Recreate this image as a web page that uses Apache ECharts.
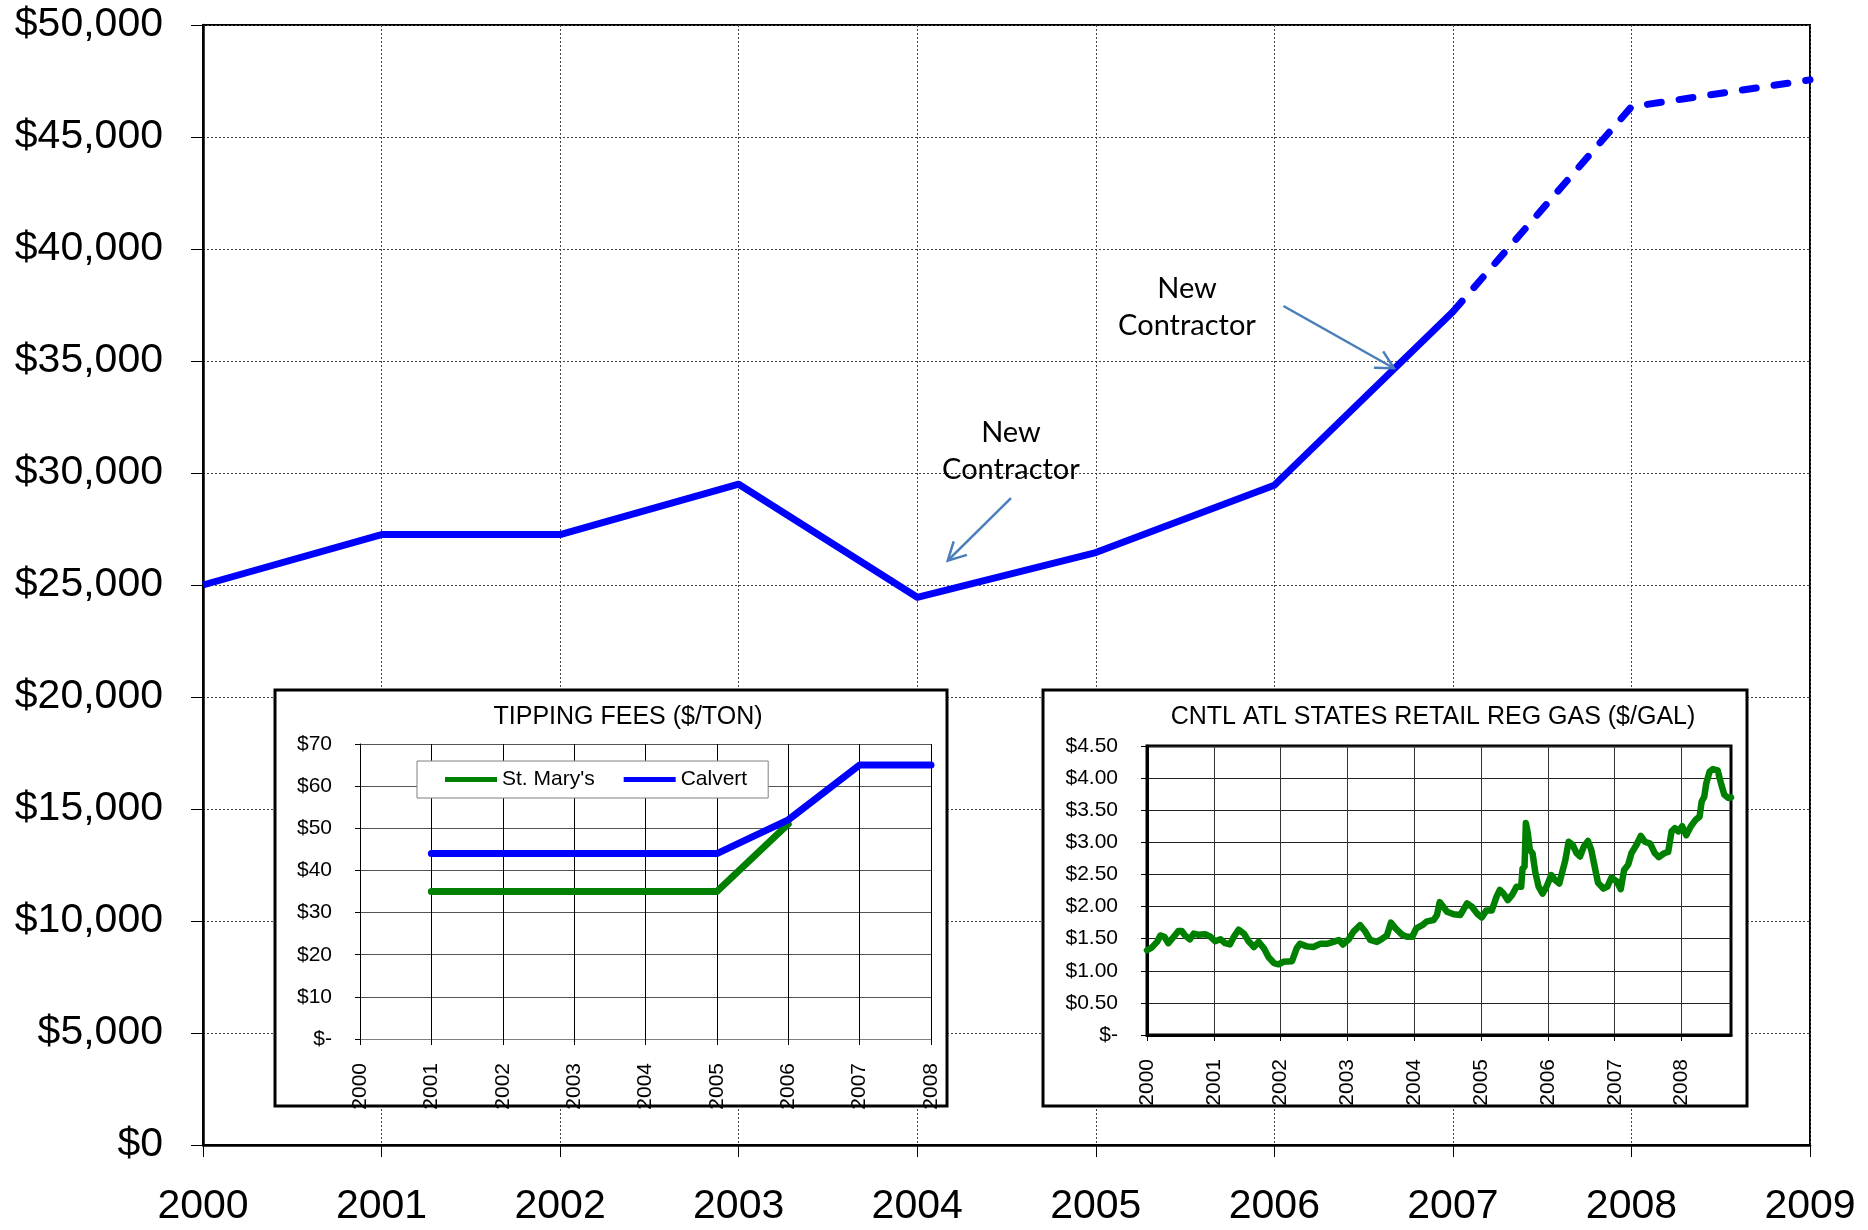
<!DOCTYPE html>
<html><head><meta charset="utf-8">
<script src="https://cdn.jsdelivr.net/npm/echarts@6/dist/echarts.min.js"></script>
<style>html,body{margin:0;padding:0;background:#fff}#c{width:1868px;height:1230px}</style>
</head><body><div id="c"></div>
<script>
// ---------- DATA ----------
const mainYears = [2000, 2001, 2002, 2003, 2004, 2005, 2006, 2007, 2008, 2009];
const costYears = [2000, 2001, 2002, 2003, 2004, 2005, 2006, 2007];
const costActual = [25000, 27250, 27250, 29500, 24450, 26450, 29450, 37200];
const projYears = [2007, 2008, 2009];
const costProjected = [37200, 46350, 47550];

const feeYears = [2001, 2002, 2003, 2004, 2005, 2006, 2007, 2008];
const stMarysFee = [35, 35, 35, 35, 35, 51];
const calvertFee = [44, 44, 44, 44, 44, 52, 65, 65];
const feeTickYears = [2000, 2001, 2002, 2003, 2004, 2005, 2006, 2007, 2008];

const gasDates = [2000.00, 2000.07, 2000.15, 2000.20, 2000.26, 2000.32, 2000.40, 2000.47, 2000.52, 2000.57,
  2000.64, 2000.70, 2000.77, 2000.87, 2000.95, 2001.02, 2001.10, 2001.17, 2001.24, 2001.30,
  2001.37, 2001.45, 2001.52, 2001.60, 2001.67, 2001.75, 2001.82, 2001.90, 2001.97, 2002.04,
  2002.17, 2002.24, 2002.29, 2002.39, 2002.49, 2002.59, 2002.69, 2002.79, 2002.87, 2002.93,
  2003.02, 2003.09, 2003.19, 2003.26, 2003.34, 2003.44, 2003.52, 2003.59, 2003.65, 2003.72,
  2003.82, 2003.89, 2003.97, 2004.03, 2004.12, 2004.19, 2004.29, 2004.34, 2004.38, 2004.49,
  2004.59, 2004.69, 2004.79, 2004.86, 2004.94, 2005.01, 2005.08, 2005.16, 2005.23, 2005.28,
  2005.33, 2005.40, 2005.47, 2005.53, 2005.60, 2005.62, 2005.65, 2005.67, 2005.70, 2005.73,
  2005.77, 2005.81, 2005.86, 2005.92, 2005.98, 2006.05, 2006.11, 2006.17, 2006.22, 2006.26,
  2006.31, 2006.37, 2006.43, 2006.48, 2006.54, 2006.60, 2006.65, 2006.70, 2006.75, 2006.83,
  2006.89, 2006.95, 2007.03, 2007.09, 2007.14, 2007.20, 2007.25, 2007.33, 2007.39, 2007.45,
  2007.53, 2007.60, 2007.66, 2007.74, 2007.80, 2007.85, 2007.90, 2007.95, 2008.01, 2008.07,
  2008.14, 2008.21, 2008.27, 2008.30, 2008.34, 2008.37, 2008.42, 2008.47, 2008.54, 2008.59,
  2008.64, 2008.70, 2008.74];
const gasPrices = [1.32, 1.36, 1.45, 1.55, 1.53, 1.43, 1.53, 1.62, 1.62, 1.55,
  1.49, 1.58, 1.56, 1.57, 1.53, 1.46, 1.49, 1.43, 1.41, 1.53,
  1.64, 1.58, 1.46, 1.37, 1.45, 1.35, 1.21, 1.12, 1.10, 1.14,
  1.15, 1.35, 1.42, 1.38, 1.37, 1.42, 1.42, 1.45, 1.48, 1.41,
  1.49, 1.61, 1.71, 1.62, 1.48, 1.45, 1.50, 1.55, 1.75, 1.66,
  1.56, 1.53, 1.53, 1.66, 1.71, 1.77, 1.79, 1.87, 2.07, 1.92,
  1.88, 1.87, 2.05, 2.00, 1.89, 1.83, 1.94, 1.94, 2.15, 2.26,
  2.21, 2.10, 2.19, 2.31, 2.31, 2.59, 2.62, 3.30, 3.14, 2.88,
  2.83, 2.54, 2.31, 2.20, 2.31, 2.49, 2.41, 2.36, 2.56, 2.72,
  3.01, 2.96, 2.83, 2.78, 2.94, 3.02, 2.88, 2.62, 2.37, 2.28,
  2.31, 2.45, 2.39, 2.27, 2.57, 2.65, 2.83, 2.97, 3.10, 3.01,
  2.98, 2.83, 2.77, 2.83, 2.85, 3.17, 3.22, 3.17, 3.25, 3.11,
  3.25, 3.35, 3.40, 3.63, 3.71, 3.92, 4.10, 4.14, 4.12, 3.92,
  3.74, 3.69, 3.70];
const gasTickYears = [2000, 2001, 2002, 2003, 2004, 2005, 2006, 2007, 2008];

// annotation anchors in data space (year, $)
const noteLabels = ['New\nContractor', 'New\nContractor'];
const noteAnchors = [[2004.525, 30960], [2005.511, 37410]];
const arrowFrom = [[2004.525, 28880], [2006.051, 37455]];
const arrowTo = [[2004.171, 26090], [2006.67, 34675]];

// ---------- CHART ----------
const FF = '"Liberation Sans", Arial, Helvetica, sans-serif';
const chart = echarts.init(document.getElementById('c'), null, {renderer: 'canvas'});
const pairs = (xs, ys) => ys.map((v, i) => [xs[i], v]);

const option = {
  animation: false,
  backgroundColor: '#fff',
  legend: {
    zlevel: 1, z: 10,
    data: ["St. Mary's", 'Calvert'],
    left: 417, top: 761,
    padding: [8, 21, 8, 28], itemGap: 29,
    itemWidth: 52, itemHeight: 5, icon: 'rect',
    backgroundColor: '#fff', borderColor: '#808080', borderWidth: 1,
    textStyle: {fontSize: 21, fontFamily: FF, color: '#000'}
  },
  grid: [
    {left: 203, right: 58, top: 25, bottom: 85, outerBoundsMode: 'none',
     show: true, borderColor: '#000', borderWidth: 2, backgroundColor: 'transparent'},
    {left: 360, right: 937, top: 744, bottom: 191, outerBoundsMode: 'none', zlevel: 1, z: 5},
    {left: 1147, right: 137, top: 746, bottom: 195, outerBoundsMode: 'none', zlevel: 1, z: 5,
     show: true, borderColor: '#000', borderWidth: 3, backgroundColor: 'transparent'}
  ],
  xAxis: [
    {type: 'value', gridIndex: 0, min: 2000, max: 2009, interval: 1,
     axisLine: {onZero: false, lineStyle: {color: '#000', width: 2.5}},
     axisTick: {show: true, length: 12, lineStyle: {color: '#000', width: 1}},
     axisLabel: {margin: 41, fontSize: 41, fontFamily: FF, color: '#000', formatter: v => String(v)},
     splitLine: {show: true, lineStyle: {color: '#444', width: 1, type: [2, 2]}}},
    {type: 'value', gridIndex: 1, min: 2000, max: 2008, interval: 1, zlevel: 1, z: 5,
     axisLine: {onZero: false, lineStyle: {color: '#808080', width: 1}},
     axisTick: {show: true, length: 6, lineStyle: {color: '#000', width: 1}},
     axisLabel: {rotate: 90, margin: 24, fontSize: 21, fontFamily: FF, color: '#000', formatter: v => String(v)},
     splitLine: {show: true, lineStyle: {color: '#000', width: 1}}},
    {type: 'value', gridIndex: 2, min: 2000, max: 2008.74, zlevel: 1, z: 5,
     axisLine: {onZero: false, lineStyle: {color: '#000', width: 3}},
     axisTick: {show: true, length: 6, customValues: gasTickYears, lineStyle: {color: '#000', width: 1}},
     axisLabel: {rotate: 90, margin: 24, fontSize: 21, fontFamily: FF, color: '#000',
                 customValues: gasTickYears, formatter: v => String(Math.round(v))},
     splitLine: {show: true, lineStyle: {color: '#333', width: 1}}}
  ],
  yAxis: [
    {type: 'value', gridIndex: 0, min: 0, max: 50000, interval: 5000,
     axisLine: {show: true, onZero: false, lineStyle: {color: '#000', width: 2.5}},
     axisTick: {show: true, length: 12, lineStyle: {color: '#000', width: 1}},
     axisLabel: {margin: 40, fontSize: 41, fontFamily: FF, color: '#000',
                 formatter: v => '$' + v.toLocaleString('en-US')},
     splitLine: {show: true, lineStyle: {color: '#444', width: 1, type: [2, 2]}}},
    {type: 'value', gridIndex: 1, min: 0, max: 70, interval: 10, zlevel: 1, z: 5,
     axisLine: {show: true, onZero: false, lineStyle: {color: '#000', width: 1}},
     axisTick: {show: true, length: 5, lineStyle: {color: '#000', width: 1}},
     axisLabel: {margin: 28, fontSize: 21, fontFamily: FF, color: '#000',
                 formatter: v => v === 0 ? '$-' : '$' + v},
     splitLine: {show: true, lineStyle: {color: '#555', width: 1}}},
    {type: 'value', gridIndex: 2, min: 0, max: 4.5, interval: 0.5, zlevel: 1, z: 5,
     axisLine: {show: true, onZero: false, lineStyle: {color: '#000', width: 3}},
     axisTick: {show: true, length: 6, lineStyle: {color: '#000', width: 1}},
     axisLabel: {margin: 29, fontSize: 21, fontFamily: FF, color: '#000',
                 formatter: v => v === 0 ? '$-' : '$' + v.toFixed(2)},
     splitLine: {show: true, lineStyle: {color: '#222', width: 1}}}
  ],
  series: [
    {name: 'Cost', type: 'line', xAxisIndex: 0, yAxisIndex: 0, data: pairs(costYears, costActual),
     symbol: 'none', lineStyle: {color: '#0000ff', width: 7, join: 'round'}, z: 3},
    {name: 'Projected', type: 'line', xAxisIndex: 0, yAxisIndex: 0, data: pairs(projYears, costProjected),
     symbol: 'none', lineStyle: {color: '#0000ff', width: 7, type: [14, 18], cap: 'round', join: 'round'}, z: 3},
    {name: "St. Mary's", type: 'line', xAxisIndex: 1, yAxisIndex: 1, data: pairs(feeYears, stMarysFee),
     symbol: 'none', itemStyle: {color: '#008000'}, zlevel: 1, z: 10,
     lineStyle: {color: '#008000', width: 7, cap: 'round', join: 'round'}},
    {name: 'Calvert', type: 'line', xAxisIndex: 1, yAxisIndex: 1, data: pairs(feeYears, calvertFee),
     symbol: 'none', itemStyle: {color: '#0000ff'}, zlevel: 1, z: 11,
     lineStyle: {color: '#0000ff', width: 7, cap: 'round', join: 'round'}},
    {name: 'Gas', type: 'line', xAxisIndex: 2, yAxisIndex: 2, data: pairs(gasDates, gasPrices),
     symbol: 'none', zlevel: 1, z: 10,
     lineStyle: {color: '#008000', width: 6.5, cap: 'round', join: 'round'}}
  ]
};
chart.setOption(option);

// ---------- graphics: inset frames, inset titles, annotations ----------
const g = [
  {type: 'rect', id: 'box1', zlevel: 1, z: 0, shape: {x: 275, y: 690, width: 672, height: 416},
   style: {fill: '#fff', stroke: '#000', lineWidth: 3}},
  {type: 'rect', id: 'box2', zlevel: 1, z: 0, shape: {x: 1043, y: 690, width: 704, height: 416},
   style: {fill: '#fff', stroke: '#000', lineWidth: 3}},
  {type: 'text', id: 't1', zlevel: 1, z: 12, x: 628, y: 717,
   style: {text: 'TIPPING FEES ($/TON)', font: '25px ' + FF, fill: '#000', align: 'center', verticalAlign: 'middle'}},
  {type: 'text', id: 't2', zlevel: 1, z: 12, x: 1433, y: 717,
   style: {text: 'CNTL ATL STATES RETAIL REG GAS ($/GAL)', font: '25px ' + FF, fill: '#000', align: 'center', verticalAlign: 'middle'}}
];
noteAnchors.forEach((a, i) => {
  const p = chart.convertToPixel({gridIndex: 0}, a);
  g.push({type: 'text', id: 'note' + i, z: 100, x: p[0], y: p[1],
    style: {text: noteLabels[i], font: '29px Lato, "Open Sans", sans-serif', fill: '#000',
            align: 'center', verticalAlign: 'middle', lineHeight: 37}});
});
arrowFrom.forEach((f, i) => {
  const p0 = chart.convertToPixel({gridIndex: 0}, f);
  const p1 = chart.convertToPixel({gridIndex: 0}, arrowTo[i]);
  const dx = p0[0] - p1[0], dy = p0[1] - p1[1];
  const L = Math.hypot(dx, dy), ux = dx / L, uy = dy / L;
  const ang = 28 * Math.PI / 180, len = 20;
  const rot = (s) => [p1[0] + len * (ux * Math.cos(s * ang) - uy * Math.sin(s * ang)),
                      p1[1] + len * (ux * Math.sin(s * ang) + uy * Math.cos(s * ang))];
  g.push({type: 'line', id: 'shaft' + i, z: 100,
    shape: {x1: p0[0], y1: p0[1], x2: p1[0], y2: p1[1]},
    style: {stroke: '#4a7ebb', lineWidth: 2.5}});
  g.push({type: 'polyline', id: 'head' + i, z: 100,
    shape: {points: [rot(1), p1, rot(-1)]},
    style: {stroke: '#4a7ebb', lineWidth: 2.5, fill: null}});
});
chart.setOption({graphic: g});
</script>
</body></html>
